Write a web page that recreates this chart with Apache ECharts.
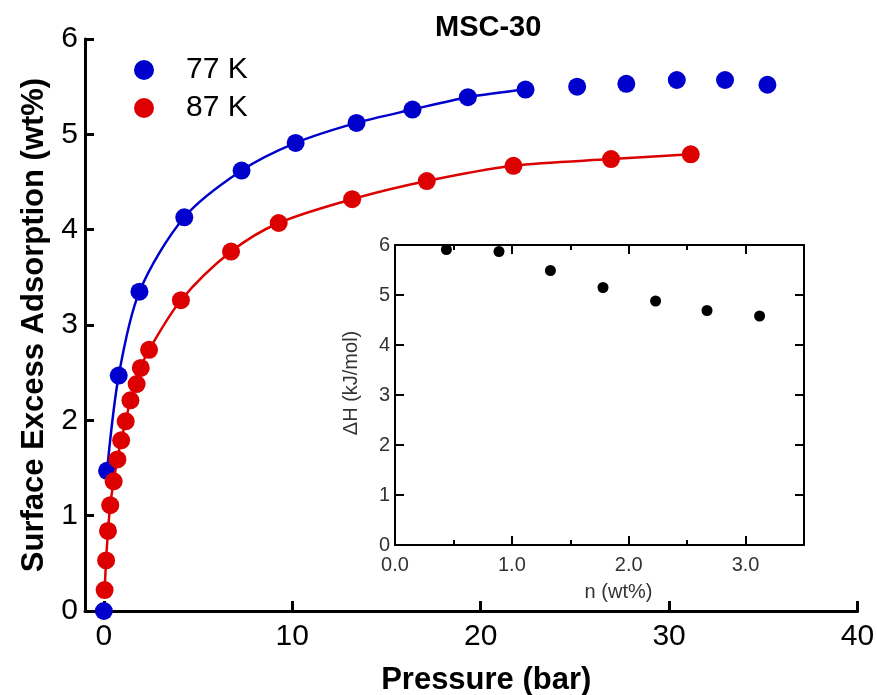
<!DOCTYPE html>
<html>
<head>
<meta charset="utf-8">
<script src="https://cdn.jsdelivr.net/npm/echarts@6/dist/echarts.min.js"></script>
<style>html,body{margin:0;padding:0;background:#fff}#c{width:877px;height:695px}</style>
</head>
<body>
<div id="c"></div>
<script>
// Main chart: 77 K isotherm (pressure bar, excess wt%)
const p77 = [0, 0.17, 0.79, 1.89, 4.27, 7.31, 10.18, 13.41, 16.38, 19.32, 22.38, 25.12, 27.73, 30.41, 32.97, 35.22];
const w77 = [0, 1.47, 2.47, 3.35, 4.13, 4.62, 4.91, 5.12, 5.26, 5.39, 5.47, 5.50, 5.53, 5.57, 5.57, 5.52];
// fit line for 77 K runs over points 1..10
const fit77Count = 11;

// 87 K isotherm
const p87 = [0.04, 0.12, 0.22, 0.34, 0.52, 0.72, 0.92, 1.16, 1.41, 1.74, 1.96, 2.40, 4.09, 6.75, 9.28, 13.18, 17.14, 21.74, 26.92, 31.15];
const w87 = [0.22, 0.53, 0.84, 1.11, 1.36, 1.59, 1.79, 1.99, 2.21, 2.38, 2.55, 2.74, 3.26, 3.77, 4.07, 4.32, 4.51, 4.67, 4.74, 4.79];

// Inset: isosteric heat
const nInset = [0.44, 0.89, 1.33, 1.78, 2.23, 2.67, 3.12];
const dhInset = [5.91, 5.87, 5.49, 5.15, 4.88, 4.69, 4.58];

const mainXTicks = [0, 10, 20, 30, 40];

const zip = (a, b) => a.map((v, i) => [v, b[i]]);
const FONT = 'Liberation Sans, Arial, sans-serif';
const BLUE = '#0000cc', RED = '#dd0000';
const INSET_TXT = '#333';

const chart = echarts.init(document.getElementById('c'), null, {renderer: 'canvas'});
const insetLine = {onZero: false, lineStyle: {color: '#000', width: 2}};
const insetTick = {inside: true, length: 9, lineStyle: {color: '#000', width: 2}};
const insetMinor = {show: true, splitNumber: 2, length: 5, lineStyle: {color: '#000', width: 2}};
chart.setOption({
  animation: false,
  backgroundColor: '#fff',
  title: {
    text: 'MSC-30', left: 430, top: 8,
    textStyle: {fontFamily: FONT, fontWeight: 'bold', fontSize: 29, color: '#000'}
  },
  legend: {
    data: ['77 K', '87 K'], orient: 'vertical', left: 129, top: 50,
    itemWidth: 20, itemHeight: 20, itemGap: 8, icon: 'circle',
    textStyle: {fontFamily: FONT, fontSize: 30, color: '#000', padding: [0, 0, 0, 27]}
  },
  grid: [
    {left: 85, right: 19.5, top: 39, bottom: 84, outerBoundsMode: 'none', containLabel: false},
    {left: 395, right: 73, top: 245, bottom: 150, outerBoundsMode: 'none', containLabel: false}
  ],
  xAxis: [
    {
      gridIndex: 0, type: 'value', min: -1, max: 40,
      name: 'Pressure (bar)', nameLocation: 'middle', nameGap: 54,
      nameTextStyle: {fontFamily: FONT, fontWeight: 'bold', fontSize: 31, color: '#000', padding: [0, 0, 0, 30]},
      axisLine: {onZero: false, lineStyle: {color: '#000', width: 3}},
      axisTick: {inside: true, length: 10, lineStyle: {color: '#000', width: 3}, customValues: mainXTicks},
      axisLabel: {fontFamily: FONT, fontSize: 30, color: '#000', margin: 11, customValues: mainXTicks},
      splitLine: {show: false}
    },
    {
      gridIndex: 1, type: 'value', min: 0, max: 3.5, interval: 1,
      name: 'n (wt%)', nameLocation: 'middle', nameGap: 37,
      nameTextStyle: {fontFamily: FONT, fontSize: 20, color: INSET_TXT, padding: [0, 0, 0, 38]},
      axisLine: insetLine, axisTick: insetTick, minorTick: insetMinor,
      axisLabel: {fontFamily: FONT, fontSize: 20, color: INSET_TXT, margin: 10,
        formatter: v => (Number.isInteger(v) ? v.toFixed(1) : '')},
      splitLine: {show: false}
    },
    {
      gridIndex: 1, type: 'value', min: 0, max: 3.5, interval: 1, position: 'top',
      axisLine: insetLine, axisTick: insetTick, minorTick: insetMinor,
      axisLabel: {show: false}, splitLine: {show: false}
    }
  ],
  yAxis: [
    {
      gridIndex: 0, type: 'value', min: 0, max: 6, interval: 1,
      name: 'Surface Excess Adsorption (wt%)', nameLocation: 'middle', nameGap: 27,
      nameTextStyle: {fontFamily: FONT, fontWeight: 'bold', fontSize: 31, color: '#000'},
      axisLine: {onZero: false, lineStyle: {color: '#000', width: 3}},
      axisTick: {inside: true, length: 9, lineStyle: {color: '#000', width: 3}},
      axisLabel: {fontFamily: FONT, fontSize: 30, color: '#000', margin: 7},
      splitLine: {show: false}
    },
    {
      gridIndex: 1, type: 'value', min: 0, max: 6, interval: 1,
      name: '\u0394H (kJ/mol)', nameLocation: 'middle', nameGap: 34,
      nameTextStyle: {fontFamily: FONT, fontSize: 20, color: INSET_TXT, padding: [0, 0, 0, 24]},
      axisLine: insetLine, axisTick: insetTick,
      axisLabel: {fontFamily: FONT, fontSize: 20, color: INSET_TXT, margin: 5},
      splitLine: {show: false}
    },
    {
      gridIndex: 1, type: 'value', min: 0, max: 6, interval: 1, position: 'right',
      axisLine: insetLine, axisTick: insetTick,
      axisLabel: {show: false}, splitLine: {show: false}
    }
  ],
  series: [
    {
      name: 'fit77', type: 'line', xAxisIndex: 0, yAxisIndex: 0, smooth: 0.3,
      data: zip(p77, w77).slice(1, fit77Count), symbol: 'none',
      lineStyle: {color: BLUE, width: 2.5}, z: 2
    },
    {
      name: '77 K', type: 'scatter', xAxisIndex: 0, yAxisIndex: 0,
      data: zip(p77, w77), symbolSize: 18, itemStyle: {color: BLUE, opacity: 1}, z: 3
    },
    {
      name: 'fit87', type: 'line', xAxisIndex: 0, yAxisIndex: 0, smooth: 0.3,
      data: zip(p87, w87), symbol: 'none',
      lineStyle: {color: RED, width: 2.5}, z: 4
    },
    {
      name: '87 K', type: 'scatter', xAxisIndex: 0, yAxisIndex: 0,
      data: zip(p87, w87), symbolSize: 18, itemStyle: {color: RED, opacity: 1}, z: 5
    },
    {
      name: 'dH', type: 'scatter', xAxisIndex: 1, yAxisIndex: 1,
      data: zip(nInset, dhInset), symbolSize: 11, itemStyle: {color: '#000', opacity: 1}, z: 6
    }
  ]
});
</script>
</body>
</html>
